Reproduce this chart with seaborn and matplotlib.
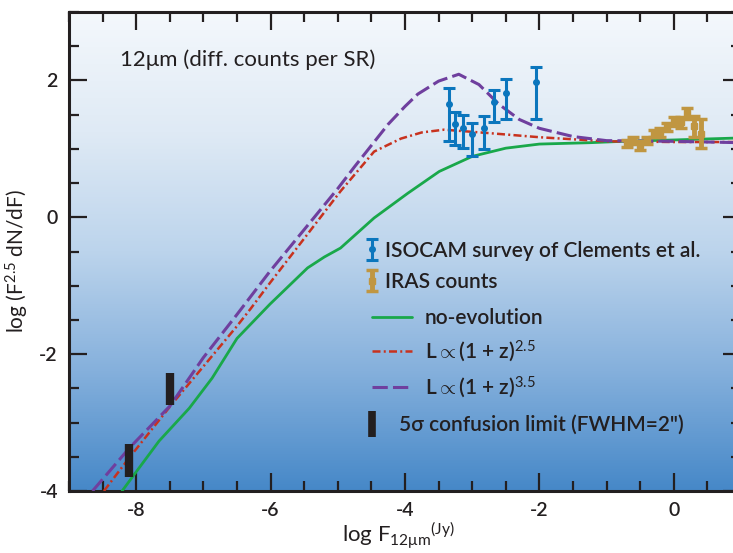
import numpy as np
import matplotlib
matplotlib.use('Agg')
import matplotlib.pyplot as plt
import seaborn as sns
from matplotlib.colors import LinearSegmentedColormap
from matplotlib.lines import Line2D
from matplotlib.ticker import MultipleLocator

# model curves (log F, log F^2.5 dN/dF)
noevo_x = [-8.21, -8.0, -7.66, -7.21, -6.87, -6.5, -6.01, -5.45, -5.2, -4.96, -4.46,
           -3.96, -3.49, -3.0, -2.5, -2.0, -1.25, -0.76, 0.0, 1.0]
noevo_y = [-4.0, -3.72, -3.27, -2.79, -2.35, -1.77, -1.27, -0.74, -0.58, -0.45, -0.01,
           0.35, 0.67, 0.89, 1.01, 1.07, 1.09, 1.11, 1.13, 1.16]

ev25_x = [-8.48, -8.1, -7.46, -7.0, -6.5, -6.3, -6.01, -5.5, -4.96, -4.46, -4.06,
          -3.75, -3.42, -2.75, -2.0, -1.0, 0.0, 1.0]
ev25_y = [-4.0, -3.51, -2.72, -2.18, -1.59, -1.34, -0.96, -0.31, 0.38, 0.96, 1.15,
          1.24, 1.28, 1.23, 1.17, 1.11, 1.10, 1.10]

ev35_x = [-8.65, -8.1, -7.5, -7.0, -6.5, -6.01, -5.5, -5.0, -4.75, -4.5, -4.25, -4.0,
          -3.81, -3.5, -3.2, -2.9, -2.6, -2.3, -2.0, -1.5, -1.0, 0.0, 1.0]
ev35_y = [-4.0, -3.37, -2.76, -2.05, -1.42, -0.79, -0.18, 0.42, 0.74, 1.05, 1.36, 1.62,
          1.80, 1.99, 2.09, 1.94, 1.65, 1.43, 1.30, 1.18, 1.12, 1.11, 1.09]

# ISOCAM survey of Clements et al.
iso_x = [-3.34, -3.25, -3.14, -3.01, -2.83, -2.67, -2.50, -2.05]
iso_y = [1.65, 1.37, 1.31, 1.21, 1.31, 1.68, 1.82, 1.97]
iso_lo = [0.53, 0.31, 0.30, 0.31, 0.31, 0.29, 0.38, 0.54]
iso_hi = [0.24, 0.17, 0.18, 0.17, 0.17, 0.18, 0.20, 0.23]

# IRAS counts
iras_x = [-0.7, -0.6, -0.5, -0.4, -0.3, -0.2, -0.1, 0.0, 0.1, 0.2, 0.3, 0.4]
iras_y = [1.08, 1.12, 1.05, 1.12, 1.23, 1.24, 1.32, 1.40, 1.39, 1.52, 1.33, 1.22]
iras_err = [0.05, 0.05, 0.06, 0.05, 0.05, 0.06, 0.06, 0.07, 0.08, 0.08, 0.15, 0.21]

# 5 sigma confusion limits
conf_x = [-8.1, -7.5]
conf_lo = [-3.80, -2.74]
conf_hi = [-3.31, -2.28]

GREEN = '#19a84a'
RED = '#c8321e'
PURPLE = '#6f3f9e'
BLUE = '#0b76bd'
GOLD = '#c09641'
INK = '#231f20'
RED_LS = (0, (3.2, 1.3, 0.8, 1.3))
PURPLE_LS = (0, (5.0, 1.7))

sns.set_style('ticks')
plt.rcParams['font.family'] = ['Lato', 'DejaVu Sans']
plt.rcParams['axes.unicode_minus'] = False
plt.rcParams['mathtext.fontset'] = 'custom'
plt.rcParams['mathtext.rm'] = 'Lato'
plt.rcParams['mathtext.it'] = 'Lato:italic'
plt.rcParams['mathtext.bf'] = 'Lato:bold'

fig = plt.figure(figsize=(7.33, 5.53), dpi=100)
ax = fig.add_axes([69 / 733, 62 / 553, 672 / 733, 479 / 553])

# background gradient, light at the top, blue at the bottom
bg = LinearSegmentedColormap.from_list(
    'bg', [(0, '#4688c8'), (0.25, '#85b0dc'), (0.5, '#bcd4ec'),
           (0.75, '#dfeaf5'), (1, '#f4f8fc')])
ax.imshow(np.linspace(0, 1, 256).reshape(-1, 1), cmap=bg, origin='lower',
          extent=[-9, 1, -4, 3], aspect='auto', zorder=0)

sns.lineplot(x=noevo_x, y=noevo_y, ax=ax, color=GREEN, lw=2.0, sort=False, zorder=3)
sns.lineplot(x=ev25_x, y=ev25_y, ax=ax, color=RED, lw=1.8, sort=False, zorder=3,
             linestyle=RED_LS)
sns.lineplot(x=ev35_x, y=ev35_y, ax=ax, color=PURPLE, lw=2.2, sort=False, zorder=3,
             linestyle=PURPLE_LS)

iso = ax.errorbar(iso_x, iso_y, yerr=[iso_lo, iso_hi], fmt='o', ms=4, color=BLUE,
                  elinewidth=2.2, capsize=4, capthick=2.2, zorder=5)
iras = ax.errorbar(iras_x, iras_y, yerr=iras_err, fmt='s', ms=4, color=GOLD,
                   elinewidth=3.5, capsize=4, capthick=2.5, zorder=5)
ax.vlines(conf_x, conf_lo, conf_hi, color=INK, lw=6, zorder=6)

ax.set_xlim(-9, 1)
ax.set_ylim(-4, 3)
ax.xaxis.set_major_locator(MultipleLocator(2))
ax.xaxis.set_minor_locator(MultipleLocator(0.5))
ax.yaxis.set_major_locator(MultipleLocator(2))
ax.yaxis.set_minor_locator(MultipleLocator(0.5))
ax.tick_params(which='both', direction='in', top=True, right=True, color=INK,
               width=1.6, labelsize=14, labelcolor=INK)
ax.tick_params(which='major', length=13, pad=8)
ax.tick_params(which='minor', length=7)
for lab in ax.get_xticklabels() + ax.get_yticklabels():
    lab.set_fontweight('semibold')
for s in ax.spines.values():
    s.set_linewidth(2.2)
    s.set_color(INK)

ax.set_xlabel(r'log F$_{\mathrm{12\mu m}}$$^{\mathrm{(Jy)}}$', fontsize=16,
              color=INK)
ax.set_ylabel(r'log (F$^{2.5}$ dN/dF)', fontsize=15, color=INK)
ax.xaxis.set_label_coords(0.49, -0.062)
ax.yaxis.set_label_coords(-0.056, 0.48)

ax.text(0.076, 0.90, '12μm (diff. counts per SR)', transform=ax.transAxes,
        fontsize=16, color=INK, va='center', ha='left', zorder=7)

# legend in three blocks so the handles sit where they do in the original
leg_kw = dict(frameon=False, fontsize=15, borderpad=0, borderaxespad=0,
              labelcolor=INK, loc='center left')
leg1 = ax.legend([iso, iras], ['ISOCAM survey of Clements et al.', 'IRAS counts'],
                 bbox_to_anchor=(0.442, 0.469), handlelength=0.6,
                 handletextpad=0.3, labelspacing=0.55, **leg_kw)
ax.add_artist(leg1)
leg2 = ax.legend([Line2D([], [], color=GREEN, lw=2.0),
                  Line2D([], [], color=RED, lw=1.8, linestyle=RED_LS),
                  Line2D([], [], color=PURPLE, lw=2.2, linestyle=PURPLE_LS)],
                 ['no-evolution', r'L$\propto$(1 + z)$^{2.5}$',
                  r'L$\propto$(1 + z)$^{3.5}$'],
                 bbox_to_anchor=(0.451, 0.286), handlelength=1.92,
                 handletextpad=0.62, labelspacing=0.48, **leg_kw)
ax.add_artist(leg2)
leg3 = ax.legend([Line2D([], [], color=INK, lw=0, marker='|', ms=19, mew=5.5)],
                 ['5σ confusion limit (FWHM=2")'],
                 bbox_to_anchor=(0.442, 0.138), handlelength=0.6,
                 handletextpad=1.0, **leg_kw)
for lg in (leg1, leg2, leg3):
    for t in lg.get_texts():
        t.set_fontweight('semibold')

fig.savefig('out.png', dpi=100)
